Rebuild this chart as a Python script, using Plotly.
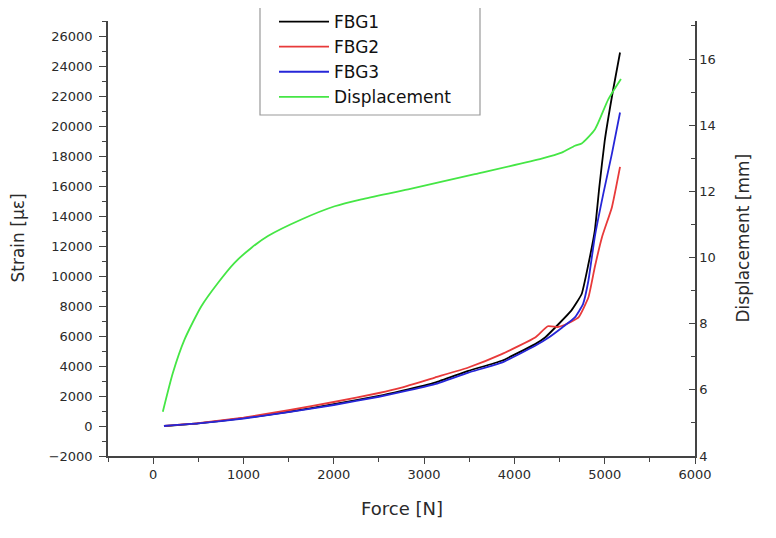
import plotly.graph_objects as go

# FBG strain curves (force in N, strain in micro-strain)
fbg1_force = [120, 500, 1000, 1500, 2000, 2500, 2750, 3120, 3490, 3860, 4230, 4340, 4490, 4630, 4745, 4820, 4890, 4940, 5000, 5090, 5170]
fbg1_strain = [0, 180, 520, 950, 1450, 2000, 2340, 2890, 3680, 4350, 5460, 5900, 6800, 7690, 8800, 10800, 13000, 15900, 19000, 22300, 24900]

fbg2_force = [120, 500, 1000, 1500, 2000, 2500, 2750, 3120, 3490, 3860, 4230, 4370, 4480, 4560, 4710, 4820, 4890, 4970, 5080, 5170]
fbg2_strain = [0, 190, 560, 1050, 1600, 2200, 2560, 3230, 3900, 4790, 5900, 6650, 6600, 6750, 7240, 8580, 10580, 12590, 14590, 17270]

fbg3_force = [120, 500, 1000, 1500, 2000, 2500, 2750, 3120, 3490, 3860, 4230, 4380, 4530, 4670, 4760, 4820, 4890, 4985, 5080, 5170]
fbg3_strain = [0, 170, 500, 920, 1400, 1950, 2270, 2790, 3560, 4230, 5350, 5900, 6570, 7240, 8130, 9700, 12600, 15490, 18160, 20900]

# displacement (mm), right axis
disp_force = [107, 218, 347, 532, 717, 901, 1086, 1271, 1641, 2010, 2306, 2824, 3562, 4302, 4523, 4671, 4745, 4893, 5041, 5180]
disp_mm = [5.34, 6.51, 7.52, 8.52, 9.23, 9.84, 10.29, 10.65, 11.15, 11.55, 11.76, 12.06, 12.52, 12.99, 13.17, 13.38, 13.45, 13.88, 14.79, 15.4]

FONT = "DejaVu Sans, Arial, sans-serif"
AXC = "#444444"
TXT = "#2a2a2a"

fig = go.Figure()
fig.add_trace(go.Scatter(x=fbg1_force, y=fbg1_strain, mode="lines", name="FBG1",
                         line=dict(color="#000000", width=1.8, shape="spline", smoothing=0.4)))
fig.add_trace(go.Scatter(x=fbg2_force, y=fbg2_strain, mode="lines", name="FBG2",
                         line=dict(color="#e83a3a", width=1.8, shape="spline", smoothing=0.4)))
fig.add_trace(go.Scatter(x=fbg3_force, y=fbg3_strain, mode="lines", name="FBG3",
                         line=dict(color="#2626d8", width=1.8, shape="spline", smoothing=0.4)))
fig.add_trace(go.Scatter(x=disp_force, y=disp_mm, mode="lines", name="Displacement", yaxis="y2",
                         line=dict(color="#45e645", width=1.8, shape="spline", smoothing=0.6)))

# page has a small body margin, margins are compensated for it
PW, PH = 587, 435  # plot area size in px
fig.update_layout(
    width=776, height=538,
    margin=dict(l=100, r=89, t=13, b=90, autoexpand=False),
    paper_bgcolor="white", plot_bgcolor="white",
    font=dict(family=FONT, color=TXT, size=13),
    xaxis=dict(range=[-500, 6000], tickvals=[0, 1000, 2000, 3000, 4000, 5000, 6000], tickformat="d",
               showline=True, linecolor=AXC, linewidth=1.5, showgrid=False, zeroline=False,
               ticks="outside", ticklen=6, tickwidth=1.3, tickcolor=AXC,
               minor=dict(dtick=500, tick0=0, ticks="outside", ticklen=4, tickcolor=AXC, tickwidth=1.2),
               tickfont=dict(size=13)),
    yaxis=dict(range=[-2000, 27000], dtick=2000, tick0=0, tickformat="d",
               showline=True, linecolor=AXC, linewidth=1.5, showgrid=False, zeroline=False,
               ticks="outside", ticklen=7, tickwidth=1.3, tickcolor=AXC, ticklabelstandoff=4,
               minor=dict(dtick=1000, tick0=0, ticks="outside", ticklen=4, tickcolor=AXC, tickwidth=1.2),
               tickfont=dict(size=13)),
    yaxis2=dict(range=[4, 17.15], dtick=2, tick0=4, overlaying="y", side="right",
                showline=True, linecolor=AXC, linewidth=1.5, showgrid=False, zeroline=False,
                ticks="inside", ticklen=6, tickwidth=1.3, tickcolor=AXC,
                minor=dict(dtick=1, tick0=4, ticks="inside", ticklen=4, tickcolor=AXC, tickwidth=1.2),
                tickfont=dict(size=13)),
    legend=dict(x=(272 - 106) / PW, y=1 + (20 - 3) / PH,
                xanchor="left", yanchor="top", itemwidth=50,
                bgcolor="rgba(0,0,0,0)", borderwidth=0,
                font=dict(size=17, color="#111111", family=FONT), tracegroupgap=0),
    shapes=[dict(type="rect", xref="paper", yref="paper",
                 x0=(258 - 106) / PW, x1=(478 - 106) / PW,
                 y0=(PH - 94) / PH, y1=(PH + 18) / PH,
                 line=dict(color="#999999", width=1.2), fillcolor="rgba(0,0,0,0)")],
    annotations=[
        dict(text="Force [N]", xref="paper", yref="paper", x=0.5, y=0, yshift=-52,
             xanchor="center", yanchor="middle", showarrow=False, font=dict(size=18, color=TXT)),
        dict(text="Strain [με]", xref="paper", yref="paper", x=0, y=0.5, xshift=-91,
             xanchor="center", yanchor="middle", textangle=-90, showarrow=False, font=dict(size=17, color=TXT)),
        dict(text="Displacement [mm]", xref="paper", yref="paper", x=1, y=0.5, xshift=47,
             xanchor="center", yanchor="middle", textangle=-90, showarrow=False, font=dict(size=17, color=TXT)),
    ],
)

fig.write_html("out.html")
